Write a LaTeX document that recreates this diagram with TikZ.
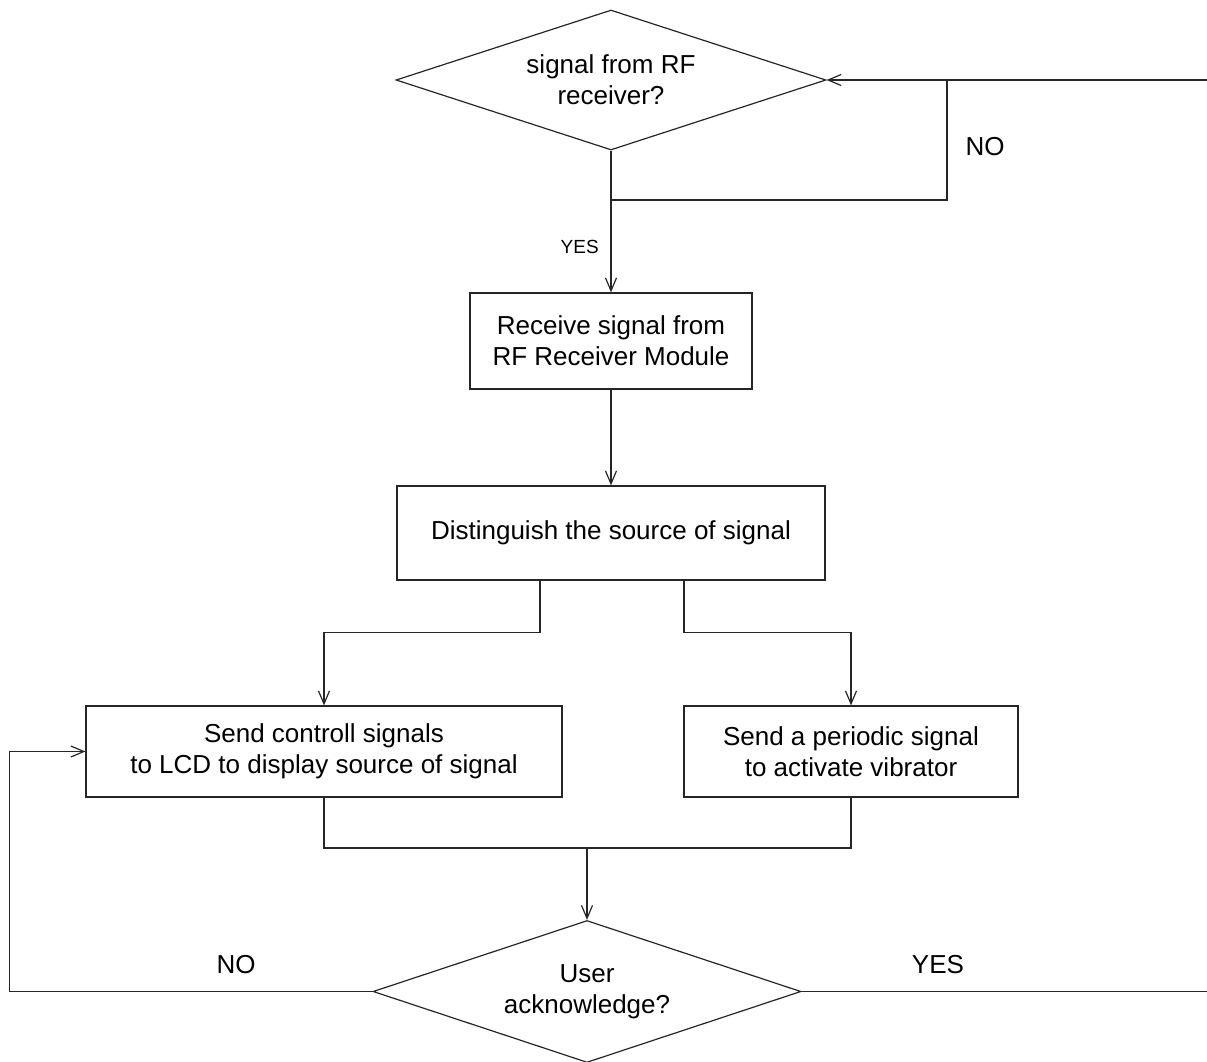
\documentclass[tikz,border=0pt]{standalone}
\usepackage{fontspec}
\setmainfont{Liberation Sans}
\usetikzlibrary{shapes.geometric,arrows.meta}
\colorlet{lineCol}{black!85}
\tikzset{
  base/.style={draw=lineCol,line width=0.6pt,align=center,font=\fontsize{13}{15.5}\selectfont},
  procbox/.style={base,rectangle,inner sep=0pt},
  decision/.style={base,diamond,aspect=3,inner sep=0pt,minimum width=215pt,minimum height=70pt},
  flow/.style={draw=lineCol,line width=0.6pt,-{Straight Barb[length=6.5pt,width=5.5pt]}},
  wire/.style={draw=lineCol,line width=0.6pt},
  lbl/.style={font=\fontsize{13}{15.5}\selectfont},
}
\begin{document}
\begin{tikzpicture}[x=0.5pt,y=-0.5pt]
\useasboundingbox (0,0) rectangle (1207,1062);
% main column
\node[decision] (rfq) at (611,80) {signal from RF\\receiver?};
\node[procbox,minimum width=141pt,minimum height=48pt] (recv) at (611,341) {Receive signal from\\RF Receiver Module};
\node[procbox,minimum width=214pt,minimum height=47pt] (dist) at (611,533) {Distinguish the source of signal};
\node[procbox,minimum width=238pt,minimum height=45.5pt] (lcd) at (324,751.5) {\raisebox{-1.5pt}{Send controll signals}\\\raisebox{-1.5pt}{to LCD to display source of signal}};
\node[procbox,minimum width=167pt,minimum height=45.5pt] (vib) at (851,751.5) {Send a periodic signal\\to activate vibrator};
\node[decision,minimum width=214pt,minimum height=71pt] (ack) at (587,991.5) {User\\acknowledge?};
\coordinate (inR) at (1207,80);
\coordinate (loopR) at (947,200);
\coordinate (merge) at (587,848);
\coordinate (outR) at (1207,991.5);
% top loop
\draw[flow] (inR) -- (rfq.east);
\draw[wire] (rfq.south) |- (loopR) -- (loopR |- rfq.east);
\node[lbl] (noTop) at (985,147) {NO};
\draw[flow] (rfq.south) -- node[pos=0.68,left=2.5pt,font=\fontsize{9.5}{11}\selectfont] (yesTop) {YES} (recv.north);
\draw[flow] (recv) -- (dist);
% split
\draw[flow] ([xshift=-35.5pt]dist.south) -- ++(0,52) -| (lcd.north);
\draw[flow] ([xshift=36.5pt]dist.south) -- ++(0,52) -| (vib.north);
% merge
\draw[wire] (lcd.south) |- (merge) -| (vib.south);
\draw[flow] (merge) -- (ack.north);
% answer
\draw[flow] (ack.west) -- ++(-363,0) |- (lcd.west);
\node[lbl] (noBot) at (236,965) {NO};
\draw[wire] (ack.east) -- (outR);
\node[lbl] (yesBot) at (938,965) {YES};
\end{tikzpicture}
\end{document}
